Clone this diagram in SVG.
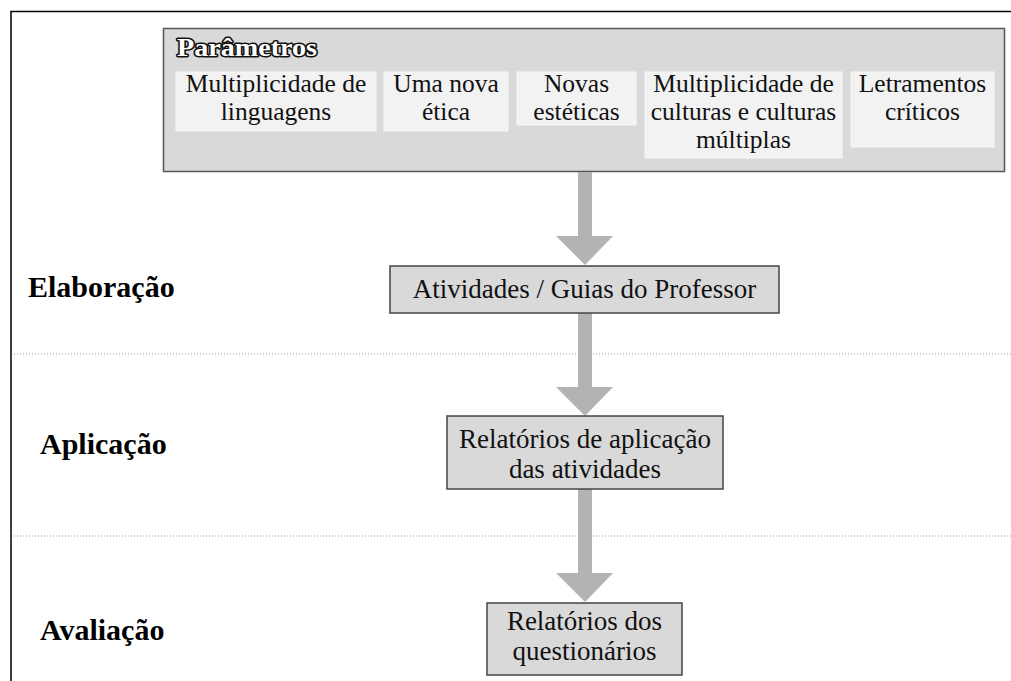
<svg xmlns="http://www.w3.org/2000/svg" width="1011" height="681" viewBox="0 0 1011 681">
<style>
.frame{fill:none;stroke:#000;stroke-width:1.5}
.outer{fill:#d9d9d9;stroke:#555;stroke-width:1.5}
.inner{fill:#f2f2f2;stroke:#f8f8f8;stroke-width:1}
.box{fill:#d9d9d9;stroke:#444;stroke-width:1.5}
.t{fill:#111;text-anchor:middle}
.s{font-size:25.5px}
.m{font-size:27px}
.lab{font-weight:bold;font-size:30px;fill:#000}
.title{font-weight:bold;font-size:25px;fill:#fff;stroke:#111;stroke-width:3;paint-order:stroke fill;stroke-linejoin:round}
.dot{stroke:#999;stroke-width:1;stroke-dasharray:1 2}
.arr{fill:#b3b3b3}
</style>
<rect width="1011" height="681" fill="#fff"/>
<path class="frame" d="M11 681 V11.5 H1011"/>
<line class="dot" x1="14" y1="354" x2="1011" y2="354"/>
<line class="dot" x1="14" y1="536" x2="1011" y2="536"/>
<g id="parametros">
<rect class="outer" x="163.5" y="28.5" width="841" height="143"/>
<text class="title" style="font-family:'Liberation Serif',serif" x="177" y="56" textLength="140" lengthAdjust="spacingAndGlyphs">Parâmetros</text>
</g>
<g id="p1">
<rect class="inner" x="176" y="72" width="200" height="59"/>
<text class="t s" style="font-family:'Liberation Serif',serif" x="276" y="92">Multiplicidade de</text>
<text class="t s" style="font-family:'Liberation Serif',serif" x="276" y="120">linguagens</text>
</g>
<g id="p2">
<rect class="inner" x="384" y="72" width="124" height="59"/>
<text class="t s" style="font-family:'Liberation Serif',serif" x="446" y="92">Uma nova</text>
<text class="t s" style="font-family:'Liberation Serif',serif" x="446" y="120">ética</text>
</g>
<g id="p3">
<rect class="inner" x="517" y="72" width="119" height="53"/>
<text class="t s" style="font-family:'Liberation Serif',serif" x="576.5" y="92">Novas</text>
<text class="t s" style="font-family:'Liberation Serif',serif" x="576.5" y="120">estéticas</text>
</g>
<g id="p4">
<rect class="inner" x="645" y="72" width="197" height="86"/>
<text class="t s" style="font-family:'Liberation Serif',serif" x="743.5" y="92">Multiplicidade de</text>
<text class="t s" style="font-family:'Liberation Serif',serif" x="743.5" y="120">culturas e culturas</text>
<text class="t s" style="font-family:'Liberation Serif',serif" x="743.5" y="148">múltiplas</text>
</g>
<g id="p5">
<rect class="inner" x="851" y="72" width="143" height="75"/>
<text class="t s" style="font-family:'Liberation Serif',serif" x="922.5" y="92">Letramentos</text>
<text class="t s" style="font-family:'Liberation Serif',serif" x="922.5" y="120">críticos</text>
</g>
<g id="connectors">
<rect class="arr" x="578" y="172" width="14" height="65"/>
<polygon class="arr" points="556,236 613,236 585,265"/>
<rect class="arr" x="578" y="313" width="14" height="75"/>
<polygon class="arr" points="556,387 613,387 585,416"/>
<rect class="arr" x="578" y="489" width="14" height="85"/>
<polygon class="arr" points="556,573 613,573 585,602"/>
</g>
<g id="atividades">
<rect class="box" x="390" y="266" width="389" height="47"/>
<text class="t m" style="font-family:'Liberation Serif',serif" x="584.5" y="298">Atividades / Guias do Professor</text>
</g>
<g id="relatorios-aplicacao">
<rect class="box" x="447" y="416" width="276" height="73"/>
<text class="t m" style="font-family:'Liberation Serif',serif" x="585" y="448">Relatórios de aplicação</text>
<text class="t m" style="font-family:'Liberation Serif',serif" x="585" y="478">das atividades</text>
</g>
<g id="relatorios-questionarios">
<rect class="box" x="487" y="603" width="195" height="72"/>
<text class="t m" style="font-family:'Liberation Serif',serif" x="584.5" y="630">Relatórios dos</text>
<text class="t m" style="font-family:'Liberation Serif',serif" x="584.5" y="660">questionários</text>
</g>
<g id="labels">
<text class="lab" style="font-family:'Liberation Serif',serif" x="28" y="297">Elaboração</text>
<text class="lab" style="font-family:'Liberation Serif',serif" x="40" y="454">Aplicação</text>
<text class="lab" style="font-family:'Liberation Serif',serif" x="40" y="640">Avaliação</text>
</g>
</svg>
